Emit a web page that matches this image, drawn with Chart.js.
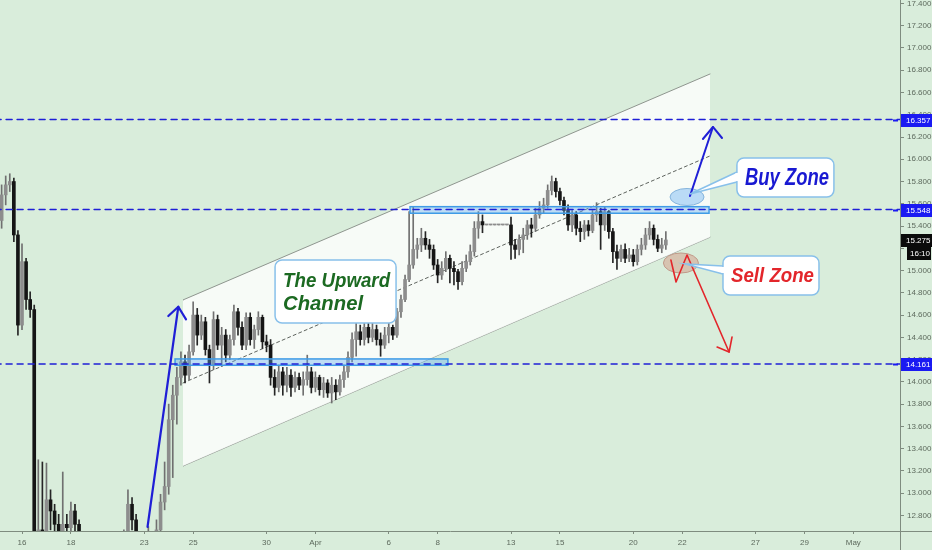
<!DOCTYPE html>
<html>
<head>
<meta charset="utf-8">
<script src="https://cdn.jsdelivr.net/npm/chart.js@4.4.1/dist/chart.umd.min.js"></script>
<style>
  html, body { margin: 0; padding: 0; background: #d9eddb; }
  #chart { display: block; }
</style>
</head>
<body>
<canvas id="chart" width="932" height="550"></canvas>
<script>
// 4h bars from the last bars of Fri Mar 13 to Tue Apr 21, weekends skipped.
// x is the trading day counted from Mon Mar 16.
const firstBarDay = -5 / 6;
const barsPerDay = 6;

const opens = [
  15.45, 15.68, 15.77, 15.80, 15.32,
  14.51, 15.08, 14.74, 14.65, 12.40, 12.67,
  12.54, 12.94, 12.84, 12.72, 12.58, 12.72,
  12.69, 12.84, 12.72, 12.40, 12.05, 11.87,
  12.05, 11.96, 11.78, 11.60, 11.69, 11.87,
  11.96, 12.23, 12.54, 12.90, 12.76, 12.50,
  12.32, 12.40, 12.54, 12.45, 12.67, 12.92,
  13.06, 13.66, 13.88, 14.04, 14.18, 14.06,
  14.27, 14.60, 14.42, 14.54, 14.29, 14.15,
  14.56, 14.33, 14.42, 14.24, 14.38, 14.63,
  14.49, 14.33, 14.58, 14.38, 14.47, 14.58,
  14.36, 14.33, 14.04, 13.95, 14.09, 13.97,
  14.06, 13.95, 14.04, 13.97, 14.02, 14.09,
  13.95, 14.04, 13.93, 13.99, 13.90, 13.97,
  13.91, 14.02, 14.09, 14.22, 14.38, 14.45,
  14.38, 14.49, 14.40, 14.47, 14.38, 14.33,
  14.42, 14.49, 14.42, 14.63, 14.74, 14.92,
  15.05, 15.19, 15.23, 15.29, 15.23, 15.19,
  15.05, 14.96, 15.02, 15.11, 15.02, 14.99,
  14.90, 15.02, 15.08, 15.17, 15.38, 15.44,
  15.41, 15.41, 15.41, 15.41, 15.41, 15.41,
  15.41, 15.23, 15.19, 15.28, 15.32, 15.41,
  15.38, 15.50, 15.56, 15.59, 15.72, 15.80,
  15.71, 15.63, 15.54, 15.41, 15.50, 15.38,
  15.35, 15.41, 15.36, 15.50, 15.53, 15.41,
  15.53, 15.35, 15.17, 15.11, 15.19, 15.11,
  15.14, 15.08, 15.19, 15.23, 15.32, 15.38,
  15.28, 15.20, 15.23
];
const highs = [
  15.77, 15.85, 15.87, 15.83, 15.36,
  15.24, 15.11, 14.81, 14.69, 13.30, 13.28,
  13.27, 13.03, 12.90, 12.81, 13.19, 12.81,
  12.92, 12.90, 12.76, 12.50, 12.18, 12.23,
  12.12, 12.02, 11.85, 11.75, 11.92, 12.01,
  12.32, 12.67, 13.03, 12.96, 12.81, 12.58,
  12.54, 12.70, 12.63, 12.76, 12.99, 13.28,
  13.80, 13.97, 14.13, 14.27, 14.24, 14.33,
  14.72, 14.66, 14.60, 14.58, 14.33, 14.63,
  14.60, 14.49, 14.47, 14.42, 14.69, 14.66,
  14.54, 14.62, 14.62, 14.51, 14.63, 14.60,
  14.42, 14.38, 14.11, 14.15, 14.13, 14.13,
  14.11, 14.09, 14.08, 14.09, 14.24, 14.13,
  14.09, 14.06, 14.04, 14.02, 14.04, 14.02,
  14.06, 14.15, 14.27, 14.44, 14.54, 14.51,
  14.54, 14.54, 14.53, 14.51, 14.44, 14.49,
  14.54, 14.51, 14.66, 14.78, 14.96, 15.53,
  15.57, 15.29, 15.38, 15.35, 15.28, 15.23,
  15.10, 15.08, 15.17, 15.14, 15.08, 15.01,
  15.08, 15.14, 15.23, 15.44, 15.53, 15.50,
  15.41, 15.41, 15.41, 15.41, 15.41, 15.41,
  15.48, 15.28, 15.32, 15.38, 15.45, 15.47,
  15.56, 15.62, 15.65, 15.77, 15.85, 15.83,
  15.74, 15.66, 15.59, 15.54, 15.53, 15.44,
  15.45, 15.45, 15.54, 15.61, 15.56, 15.57,
  15.54, 15.38, 15.23, 15.23, 15.24, 15.20,
  15.19, 15.23, 15.29, 15.38, 15.44, 15.41,
  15.32, 15.29, 15.35
];
const lows = [
  15.38, 15.59, 15.71, 15.26, 14.42,
  14.47, 14.65, 14.58, 12.32, 12.23, 12.27,
  12.40, 12.67, 12.58, 12.40, 12.45, 12.54,
  12.58, 12.54, 12.05, 11.60, 11.51, 11.69,
  11.90, 11.72, 11.55, 11.52, 11.64, 11.80,
  11.82, 12.14, 12.50, 12.67, 12.40, 12.14,
  12.14, 12.32, 12.27, 12.36, 12.58, 12.85,
  12.99, 13.14, 13.62, 13.97, 13.99, 14.02,
  14.24, 14.33, 14.38, 14.24, 13.99, 14.11,
  14.29, 14.14, 14.18, 14.20, 14.33, 14.42,
  14.29, 14.29, 14.33, 14.30, 14.42, 14.30,
  14.27, 13.97, 13.88, 13.91, 13.88, 13.91,
  13.87, 13.91, 13.93, 13.88, 13.97, 13.90,
  13.91, 13.88, 13.86, 13.86, 13.81, 13.84,
  13.88, 13.95, 14.04, 14.18, 14.23, 14.33,
  14.33, 14.35, 14.36, 14.33, 14.23, 14.30,
  14.35, 14.38, 14.40, 14.58, 14.72, 14.90,
  15.02, 15.11, 15.17, 15.19, 15.11, 15.01,
  14.89, 14.92, 14.99, 14.89, 14.87, 14.83,
  14.87, 14.99, 15.05, 15.13, 15.29, 15.34,
  15.41, 15.41, 15.41, 15.41, 15.41, 15.41,
  15.10, 15.11, 15.14, 15.16, 15.28, 15.30,
  15.35, 15.47, 15.52, 15.56, 15.68, 15.66,
  15.59, 15.50, 15.36, 15.35, 15.32, 15.26,
  15.28, 15.31, 15.34, 15.44, 15.19, 15.36,
  15.29, 15.07, 15.01, 15.08, 15.07, 15.08,
  15.04, 15.05, 15.14, 15.19, 15.28, 15.23,
  15.17, 15.16, 15.19
];
const closes = [
  15.68, 15.77, 15.80, 15.32, 14.51,
  15.08, 14.74, 14.65, 12.40, 12.67, 12.54,
  12.94, 12.84, 12.72, 12.58, 12.72, 12.69,
  12.84, 12.72, 12.40, 12.05, 11.87, 12.05,
  11.96, 11.78, 11.60, 11.69, 11.87, 11.96,
  12.23, 12.54, 12.90, 12.76, 12.50, 12.32,
  12.40, 12.54, 12.45, 12.67, 12.92, 13.06,
  13.66, 13.88, 14.04, 14.18, 14.06, 14.27,
  14.60, 14.42, 14.54, 14.29, 14.15, 14.56,
  14.33, 14.42, 14.24, 14.38, 14.63, 14.49,
  14.33, 14.58, 14.38, 14.47, 14.58, 14.36,
  14.33, 14.04, 13.95, 14.09, 13.97, 14.06,
  13.95, 14.04, 13.97, 14.02, 14.09, 13.95,
  14.04, 13.93, 13.99, 13.90, 13.97, 13.91,
  14.02, 14.09, 14.22, 14.38, 14.45, 14.38,
  14.49, 14.40, 14.47, 14.38, 14.33, 14.42,
  14.49, 14.42, 14.63, 14.74, 14.92, 15.05,
  15.19, 15.23, 15.29, 15.23, 15.19, 15.05,
  14.96, 15.02, 15.11, 15.02, 14.99, 14.90,
  15.02, 15.08, 15.17, 15.38, 15.44, 15.41,
  15.41, 15.41, 15.41, 15.41, 15.41, 15.41,
  15.23, 15.19, 15.28, 15.32, 15.41, 15.38,
  15.50, 15.56, 15.59, 15.72, 15.80, 15.71,
  15.63, 15.54, 15.41, 15.50, 15.38, 15.35,
  15.41, 15.36, 15.50, 15.53, 15.41, 15.53,
  15.35, 15.17, 15.11, 15.19, 15.11, 15.14,
  15.08, 15.19, 15.23, 15.32, 15.38, 15.28,
  15.20, 15.23, 15.275
];

const dayTicks = [0, 2, 5, 7, 10, 12, 15, 17, 20, 22, 25, 27, 30, 32, 34];
const dayLabels = ['16', '18', '23', '25', '30', 'Apr', '6', '8', '13', '15', '20', '22', '27', '29', 'May'];
const priceTicks = [12.8, 13.0, 13.2, 13.4, 13.6, 13.8, 14.0, 14.2, 14.4, 14.6, 14.8, 15.0,
                    15.2, 15.4, 15.6, 15.8, 16.0, 16.2, 16.4, 16.6, 16.8, 17.0, 17.2, 17.4];
const levels = [16.357, 15.548, 14.161];
const lastPrice = 15.275;
const countdown = '16:10';

// drawings, as [trading day, price]
const channelUpper = [[6.585, 14.736], [28.139, 16.766]];
const channelLower = [[6.585, 13.244], [28.139, 15.30]];
const channelMid = [[6.585, 13.99], [28.139, 16.03]];
const supportZone = [[6.26, 14.206], [17.42, 14.149]];
const resistZone = [[15.87, 15.574], [28.10, 15.515]];
const rallyArrow = [[5.133, 12.696], [6.393, 14.675]];
const rallyHead = [[5.984, 14.592], [6.393, 14.675], [6.708, 14.562]];
const buyArrow = [[27.32, 15.670], [28.26, 16.290]];
const buyHead = [[27.85, 16.182], [28.26, 16.290], [28.63, 16.191]];
const sellPath = [[26.54, 15.095], [26.75, 14.897], [27.20, 15.140], [28.92, 14.268]];
const sellHead = [[28.43, 14.313], [28.92, 14.268], [29.04, 14.403]];
const buySpot = [27.2, 15.661];
const sellSpot = [26.95, 15.068];
const channelNote = { at: [10.35, 15.095], lines: ['The Upward', 'Channel'] };
const buyNote = { at: [29.24, 16.011], text: 'Buy Zone' };
const sellNote = { at: [28.67, 15.131], text: 'Sell Zone' };

const pts = a => a.map(([x, y]) => ({ x, y }));
const barX = i => firstBarDay + i / barsPerDay;
const isUp = opens.map((o, i) => closes[i] >= o);

const wickData = highs.map((h, i) => ({ x: barX(i), y: [lows[i], h] }));
const bodyData = opens.map((o, i) => ({ x: barX(i), y: [o, closes[i]] }));

function lineSet(points, color, width, dash, order) {
  return {
    type: 'line', data: pts(points), borderColor: color, borderWidth: width,
    borderDash: dash || [], pointRadius: 0, fill: false, tension: 0,
    borderCapStyle: 'round', borderJoinStyle: 'round', order: order, clip: 0
  };
}

const blue = '#1f1fd6';
const red = '#e3262b';
const axisColor = '#7f8c7f';

const datasets = [
  Object.assign(lineSet(channelUpper, '#8f968f', 1, null, 20), { fill: 1, backgroundColor: 'rgba(255,255,255,0.78)' }),
  lineSet(channelLower, '#8f968f', 1, null, 20),
  lineSet(channelMid, '#5e635e', 1, [3, 3], 19),
  {
    type: 'bar', data: wickData, barThickness: 1, grouped: false, order: 10, clip: 0,
    backgroundColor: isUp.map(u => u ? '#707070' : '#262626')
  },
  {
    type: 'bar', data: bodyData, barThickness: 3, grouped: false, order: 9, clip: 0, minBarLength: 1,
    backgroundColor: isUp.map(u => u ? '#8d8d8d' : '#151515')
  }
];
levels.forEach(v => datasets.push(lineSet([[-2, v], [40, v]], blue, 1.5, [6, 5], 5)));
datasets.push(lineSet(rallyArrow, blue, 2.2, null, 2));
datasets.push(lineSet(rallyHead, blue, 2.2, null, 2));
datasets.push(lineSet(buyArrow, blue, 2, null, 2));
datasets.push(lineSet(buyHead, blue, 2, null, 2));
datasets.push(lineSet(sellPath, red, 1.6, null, 2));
datasets.push(lineSet(sellHead, red, 1.6, null, 2));

function toPx(chart, p) {
  return [chart.scales.x.getPixelForValue(p[0]), chart.scales.y.getPixelForValue(p[1])];
}

function zoneRect(ctx, chart, zone) {
  const [x1, y1] = toPx(chart, zone[0]);
  const [x2, y2] = toPx(chart, zone[1]);
  ctx.fillStyle = 'rgba(95,170,240,0.38)';
  ctx.fillRect(x1, y1, x2 - x1, y2 - y1);
  ctx.strokeStyle = '#3f9be6';
  ctx.lineWidth = 1.5;
  ctx.strokeRect(x1, y1, x2 - x1, y2 - y1);
}

function spot(ctx, chart, p, rx, ry, fill, stroke) {
  const [x, y] = toPx(chart, p);
  ctx.beginPath();
  ctx.ellipse(x, y, rx, ry, 0, 0, Math.PI * 2);
  ctx.fillStyle = fill;
  ctx.fill();
  ctx.strokeStyle = stroke;
  ctx.lineWidth = 1;
  ctx.stroke();
}

function box(ctx, x, y, w, h, tail) {
  const border = '#88c0ea';
  ctx.lineWidth = 1.5;
  ctx.strokeStyle = border;
  if (tail) {
    ctx.beginPath();
    ctx.moveTo(x, y + tail.b1);
    ctx.lineTo(tail.tx, tail.ty);
    ctx.lineTo(x, y + tail.b2);
    ctx.fillStyle = '#ffffff';
    ctx.fill();
    ctx.stroke();
  }
  ctx.beginPath();
  ctx.roundRect(x, y, w, h, 7);
  ctx.fillStyle = '#ffffff';
  ctx.fill();
  ctx.stroke();
  if (tail) {
    ctx.fillStyle = '#ffffff';
    ctx.fillRect(x - 1.5, y + tail.b1 + 1, 3, tail.b2 - tail.b1 - 2);
  }
}

const drawings = {
  id: 'drawings',
  beforeDraw(chart) {
    const ctx = chart.ctx;
    ctx.save();
    ctx.fillStyle = '#d9eddb';
    ctx.fillRect(0, 0, chart.width, chart.height);
    ctx.restore();
  },
  afterDatasetDraw(chart, args) {
    if (args.index !== 4) return;
    const ctx = chart.ctx;
    const a = chart.chartArea;
    ctx.save();
    ctx.beginPath();
    ctx.rect(a.left, a.top, a.right - a.left, a.bottom - a.top);
    ctx.clip();
    zoneRect(ctx, chart, supportZone);
    zoneRect(ctx, chart, resistZone);
    spot(ctx, chart, buySpot, 17, 8.5, 'rgba(160,205,245,0.7)', '#86b4dc');
    spot(ctx, chart, sellSpot, 17.5, 10, 'rgba(214,160,140,0.55)', '#c19a8a');
    ctx.restore();
  },
  afterDatasetsDraw(chart) {
    const ctx = chart.ctx;
    ctx.save();
    // channel label
    let [x, y] = toPx(chart, channelNote.at);
    box(ctx, x, y, 121, 63, null);
    ctx.fillStyle = '#1c6a22';
    ctx.font = 'italic bold 21px "Liberation Sans", Arial, sans-serif';
    ctx.textBaseline = 'alphabetic';
    ctx.fillText(channelNote.lines[0], x + 8, y + 27, 107);
    ctx.fillText(channelNote.lines[1], x + 8, y + 50, 80);

    // buy zone callout
    const [bx, by] = toPx(chart, buySpot);
    [x, y] = toPx(chart, buyNote.at);
    box(ctx, x, y, 97, 39, { b1: 14, b2: 24, tx: bx + 3, ty: by - 3 });
    ctx.fillStyle = '#1919d2';
    ctx.font = 'italic bold 23px "Liberation Sans", Arial, sans-serif';
    ctx.fillText(buyNote.text, x + 8, y + 27, 84);

    // sell zone callout
    const [sx, sy] = toPx(chart, sellSpot);
    [x, y] = toPx(chart, sellNote.at);
    box(ctx, x, y, 96, 39, { b1: 10, b2: 18, tx: sx + 4, ty: sy + 1 });
    ctx.fillStyle = red;
    ctx.font = 'italic bold 21px "Liberation Sans", Arial, sans-serif';
    ctx.fillText(sellNote.text, x + 8, y + 26, 83);
    ctx.restore();
  },
  afterDraw(chart) {
    const ctx = chart.ctx;
    const yS = chart.scales.y;
    const a = chart.chartArea;
    const right = a.right;
    ctx.save();
    // axis lines run on into the corner, as on the source
    ctx.strokeStyle = axisColor;
    ctx.lineWidth = 1;
    ctx.beginPath();
    ctx.moveTo(right + 0.5, a.bottom);
    ctx.lineTo(right + 0.5, chart.height);
    ctx.moveTo(right, a.bottom + 0.5);
    ctx.lineTo(chart.width, a.bottom + 0.5);
    ctx.stroke();

    ctx.font = '8px "Liberation Sans", Arial, sans-serif';
    ctx.textBaseline = 'middle';
    levels.forEach(v => {
      const y = Math.round(yS.getPixelForValue(v));
      ctx.fillStyle = '#1a1af2';
      ctx.fillRect(right + 1, y - 6, 31, 13);
      ctx.fillRect(right - 7, y - 0.5, 5, 2);
      ctx.fillStyle = '#ffffff';
      ctx.fillText(v.toFixed(3), right + 6, y + 1);
    });
    const y = Math.round(yS.getPixelForValue(lastPrice));
    ctx.fillStyle = '#0b0b0b';
    ctx.fillRect(right + 1, y - 6, 31, 13);
    ctx.fillRect(right + 7, y + 7, 24, 13);
    ctx.fillStyle = '#ffffff';
    ctx.fillText(lastPrice.toFixed(3), right + 6, y + 1);
    ctx.fillText(countdown, right + 10, y + 14);
    ctx.restore();
  }
};

Chart.defaults.font.family = '"Liberation Sans", Arial, sans-serif';

new Chart(document.getElementById('chart'), {
  type: 'bar',
  data: { datasets: datasets },
  options: {
    responsive: false,
    animation: false,
    events: [],
    layout: { padding: 0 },
    plugins: { legend: { display: false }, tooltip: { enabled: false } },
    scales: {
      x: {
        type: 'linear', min: -0.9, max: 35.91, offset: false,
        grid: { display: true, offset: false, drawOnChartArea: false, drawTicks: true, tickLength: 3, color: axisColor },
        border: { display: true, color: axisColor },
        ticks: {
          autoSkip: false, maxRotation: 0, padding: 4, color: '#5d6a5d', font: { size: 8 },
          callback: (v, i) => dayLabels[i]
        },
        afterBuildTicks: s => { s.ticks = dayTicks.map(v => ({ value: v })); },
        afterFit: s => { s.height = 19; s.paddingLeft = 0; s.paddingRight = 0; }
      },
      y: {
        type: 'linear', position: 'right', min: 12.660, max: 17.431,
        grid: { display: true, offset: false, drawOnChartArea: false, drawTicks: true, tickLength: 4, color: axisColor },
        border: { display: true, color: axisColor },
        ticks: {
          padding: 3, color: '#5d6a5d', font: { size: 8 },
          callback: v => v.toFixed(3)
        },
        afterBuildTicks: s => { s.ticks = priceTicks.map(v => ({ value: v })); },
        afterFit: s => { s.width = 32; s.paddingTop = 0; s.paddingBottom = 0; }
      }
    }
  },
  plugins: [drawings]
});
</script>
</body>
</html>
